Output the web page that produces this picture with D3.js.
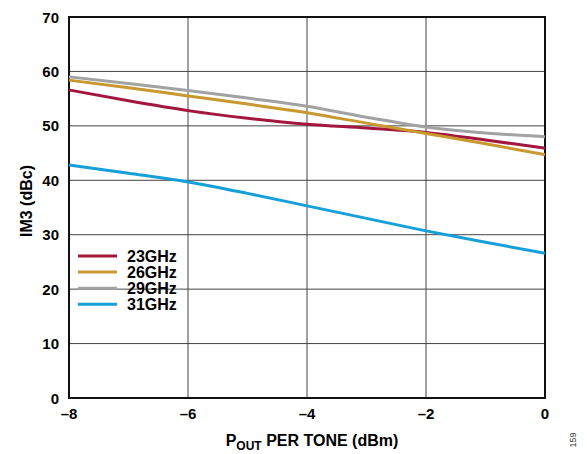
<!DOCTYPE html>
<html>
<head>
<meta charset="utf-8">
<script src="https://cdn.jsdelivr.net/npm/d3@7"></script>
<style>
  body { margin: 0; background: #fff; }
  svg text { font-family: "Liberation Sans", Arial, sans-serif; font-weight: bold; fill: #000; }
</style>
</head>
<body>
<div id="chart"></div>
<script>
// P_OUT per tone (dBm)
const pout = [-8, -7, -6, -5, -4, -3, -2, -1, 0];
const im3_23 = [56.6, 54.6, 52.8, 51.4, 50.3, 49.6, 48.8, 47.4, 45.9];
const im3_26 = [58.4, 57.0, 55.5, 54.0, 52.4, 50.5, 48.6, 46.7, 44.7];
const im3_29 = [59.0, 57.8, 56.5, 55.1, 53.6, 51.6, 49.8, 48.7, 48.0];
const im3_31 = [42.8, 41.3, 39.7, 37.6, 35.3, 33.0, 30.7, 28.6, 26.6];
const seriesNames = ["23GHz", "26GHz", "29GHz", "31GHz"];
const xTicks = [-8, -6, -4, -2, 0];
const yTicks = [0, 10, 20, 30, 40, 50, 60, 70];

const colors = ["#a3173f", "#c9982f", "#a2a2a2", "#16a0d9"];
const allSeries = [im3_23, im3_26, im3_29, im3_31];

const width = 587, height = 454;
const margin = {top: 17, right: 42, bottom: 56, left: 69};

const svg = d3.select("#chart").append("svg")
    .attr("width", width)
    .attr("height", height);

const x = d3.scaleLinear().domain([-8, 0]).range([margin.left, width - margin.right]);
const y = d3.scaleLinear().domain([0, 70]).range([height - margin.bottom, margin.top]);

// grid
svg.append("g")
    .selectAll("line")
    .data(yTicks)
    .join("line")
    .attr("x1", x(-8)).attr("x2", x(0))
    .attr("y1", d => y(d)).attr("y2", d => y(d))
    .style("stroke", "#444")
    .style("stroke-width", 1);

svg.append("g")
    .selectAll("line")
    .data(xTicks)
    .join("line")
    .attr("y1", y(0)).attr("y2", y(70))
    .attr("x1", d => x(d)).attr("x2", d => x(d))
    .style("stroke", "#444")
    .style("stroke-width", 1);

// frame
svg.append("rect")
    .attr("x", x(-8)).attr("y", y(70))
    .attr("width", x(0) - x(-8)).attr("height", y(0) - y(70))
    .style("fill", "none")
    .style("stroke", "#111")
    .style("stroke-width", 2);

// tick labels
svg.append("g")
    .selectAll("text")
    .data(yTicks)
    .join("text")
    .attr("x", x(-8) - 10)
    .attr("y", d => y(d) + 5.5)
    .attr("text-anchor", "end")
    .style("font-size", "15px")
    .text(d => d);

svg.append("g")
    .selectAll("text")
    .data(xTicks)
    .join("text")
    .attr("x", d => x(d))
    .attr("y", y(0) + 21)
    .attr("text-anchor", "middle")
    .style("font-size", "15px")
    .text(d => d < 0 ? "\u2013" + Math.abs(d) : d);

// series
const line = d3.line()
    .x((d, i) => x(pout[i]))
    .y(d => y(d))
    .curve(d3.curveMonotoneX);

// draw order so gray sits on top as in the picture
[0, 1, 3, 2].forEach(k => {
    svg.append("path")
        .datum(allSeries[k])
        .attr("d", line)
        .style("fill", "none")
        .style("stroke", colors[k])
        .style("stroke-width", 3);
});

// legend
const legend = svg.append("g")
    .selectAll("g")
    .data(seriesNames)
    .join("g")
    .attr("transform", (d, i) => `translate(78,${256 + i * 16.1})`);

legend.append("line")
    .attr("x1", 0).attr("x2", 39)
    .style("stroke", (d, i) => colors[i])
    .style("stroke-width", 3);

legend.append("text")
    .attr("x", 49)
    .attr("y", 5.5)
    .style("font-size", "16px")
    .text(d => d);

// axis titles
const xt = svg.append("text")
    .attr("x", 312)
    .attr("y", 446)
    .attr("text-anchor", "middle")
    .style("font-size", "16px");
xt.append("tspan").text("P");
xt.append("tspan").attr("dy", 4).style("font-size", "12px").text("OUT");
xt.append("tspan").attr("dy", -4).text(" PER TONE (dBm)");

svg.append("text")
    .attr("transform", "translate(32,201) rotate(-90)")
    .attr("text-anchor", "middle")
    .style("font-size", "16px")
    .text("IM3 (dBc)");

svg.append("text")
    .attr("transform", "translate(576,440) rotate(-90)")
    .attr("text-anchor", "middle")
    .style("font-size", "9px")
    .style("font-weight", "normal")
    .style("fill", "#333")
    .text("159");
</script>
</body>
</html>
